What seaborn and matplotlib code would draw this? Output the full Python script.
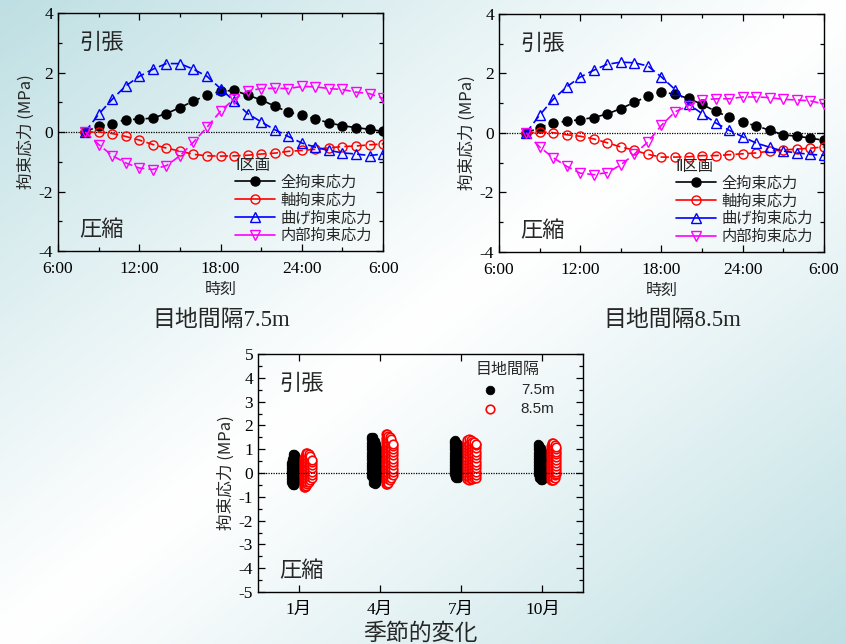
import numpy as np
import pandas as pd
import matplotlib
matplotlib.use("Agg")
import matplotlib.pyplot as plt
from matplotlib.ticker import FixedLocator, MultipleLocator
import seaborn as sns

# ---- daily curves (hours from 8:00 to next 6:00) ----
hours = list(range(8, 31))
hour_ticks = [6, 12, 18, 24, 30]
hour_labels = ["6:00", "12:00", "18:00", "24:00", "6:00"]

# 目地間隔7.5m (I区画)
total_75 = [0.00, 0.20, 0.28, 0.42, 0.43, 0.47, 0.62, 0.82, 1.04, 1.24, 1.37, 1.40,
            1.24, 1.08, 0.87, 0.67, 0.56, 0.44, 0.31, 0.21, 0.15, 0.09, 0.02]
axial_75 = [0.00, 0.00, -0.05, -0.15, -0.27, -0.42, -0.54, -0.64, -0.75, -0.80, -0.81, -0.80,
            -0.78, -0.74, -0.71, -0.65, -0.62, -0.58, -0.53, -0.49, -0.47, -0.43, -0.40]
bend_75 = [0.00, 0.60, 1.10, 1.55, 1.87, 2.11, 2.30, 2.30, 2.11, 1.87, 1.46, 1.04,
           0.62, 0.34, 0.08, -0.15, -0.37, -0.51, -0.62, -0.70, -0.74, -0.79, -0.74]
internal_75 = [0.00, -0.42, -0.79, -1.04, -1.21, -1.26, -1.13, -0.80, -0.34, 0.16, 0.70, 1.11,
               1.38, 1.46, 1.47, 1.46, 1.53, 1.52, 1.46, 1.43, 1.34, 1.29, 1.13]

# 目地間隔8.5m (II区画)
total_85 = [0.00, 0.18, 0.35, 0.39, 0.45, 0.52, 0.64, 0.82, 1.03, 1.24, 1.38, 1.30,
            1.16, 0.96, 0.73, 0.53, 0.36, 0.24, 0.09, -0.06, -0.11, -0.17, -0.25]
axial_85 = [0.00, 0.03, 0.01, -0.06, -0.11, -0.20, -0.33, -0.47, -0.58, -0.72, -0.81, -0.81,
            -0.80, -0.76, -0.76, -0.73, -0.70, -0.67, -0.61, -0.57, -0.54, -0.51, -0.47]
bend_85 = [0.00, 0.60, 1.13, 1.55, 1.88, 2.11, 2.31, 2.38, 2.36, 2.25, 1.88, 1.46,
           0.97, 0.65, 0.34, 0.09, -0.13, -0.34, -0.48, -0.61, -0.67, -0.72, -0.75]
internal_85 = [0.00, -0.47, -0.83, -1.12, -1.35, -1.40, -1.33, -1.07, -0.71, -0.30, 0.26, 0.71,
               0.92, 1.10, 1.15, 1.15, 1.21, 1.21, 1.19, 1.13, 1.11, 1.08, 0.97]

series_names = ["全拘束応力", "軸拘束応力", "曲げ拘束応力", "内部拘束応力"]

# ---- seasonal scatter: {x offset from month tick: stress values} ----
months = ["1月", "4月", "7月", "10月"]
spacings = ["7.5m", "8.5m"]

jan_75 = {
    -0.100: [-0.38, -0.26, -0.14, -0.02, 0.10, 0.22, 0.34, 0.44],
    -0.085: [-0.47, -0.35, -0.23, -0.11, 0.01, 0.13, 0.25, 0.37, 0.49, 0.60],
    -0.070: [-0.50, -0.38, -0.26, -0.14, -0.02, 0.10, 0.22, 0.34, 0.46, 0.58, 0.70, 0.80],
    -0.055: [-0.49, -0.37, -0.25, -0.13, -0.01, 0.11, 0.23, 0.35, 0.47, 0.59, 0.71, 0.82],
    -0.045: [-0.42, -0.30, -0.18, -0.06, 0.06, 0.18, 0.30, 0.42, 0.54, 0.66, 0.76],
}
apr_75 = {
    -0.105: [-0.12, 0.02, 0.16, 0.30, 0.44, 0.58, 0.72, 0.86, 1.00, 1.14, 1.28, 1.42, 1.52],
    -0.085: [-0.42, -0.28, -0.14, 0.00, 0.14, 0.28, 0.42, 0.56, 0.70, 0.84, 0.98, 1.12, 1.26, 1.40, 1.50],
    -0.065: [-0.48, -0.34, -0.20, -0.06, 0.08, 0.22, 0.36, 0.50, 0.64, 0.78, 0.92, 1.06, 1.20, 1.34],
    -0.045: [-0.44, -0.30, -0.16, -0.02, 0.12, 0.26, 0.40, 0.54, 0.68, 0.82, 0.96, 1.10, 1.20],
    -0.030: [-0.30, -0.16, -0.02, 0.12, 0.26, 0.40, 0.54, 0.68, 0.82, 0.96, 1.04],
}
jul_75 = {
    -0.090: [-0.05, 0.08, 0.21, 0.34, 0.47, 0.60, 0.73, 0.86, 0.99, 1.12, 1.25, 1.36],
    -0.075: [-0.18, -0.05, 0.08, 0.21, 0.34, 0.47, 0.60, 0.73, 0.86, 0.99, 1.12, 1.25, 1.38],
    -0.060: [-0.21, -0.08, 0.05, 0.18, 0.31, 0.44, 0.57, 0.70, 0.83, 0.96, 1.09, 1.22, 1.32],
    -0.045: [-0.19, -0.06, 0.07, 0.20, 0.33, 0.46, 0.59, 0.72, 0.85, 0.98, 1.10, 1.22],
}
oct_75 = {
    -0.060: [-0.05, 0.08, 0.21, 0.34, 0.47, 0.60, 0.73, 0.86, 0.99, 1.12, 1.20],
    -0.040: [-0.22, -0.09, 0.04, 0.17, 0.30, 0.43, 0.56, 0.69, 0.82, 0.95, 1.08, 1.18],
    -0.020: [-0.31, -0.18, -0.05, 0.08, 0.21, 0.34, 0.47, 0.60, 0.73, 0.86, 0.98, 1.06],
    0.000: [-0.31, -0.18, -0.05, 0.08, 0.21, 0.34, 0.47, 0.60, 0.72, 0.85, 0.94],
    0.012: [-0.25, -0.12, 0.01, 0.14, 0.27, 0.40, 0.53, 0.65, 0.76],
}
jan_85 = {
    0.060: [-0.58, -0.46, -0.34, -0.22, -0.10, 0.02, 0.14, 0.26, 0.38, 0.50, 0.62],
    0.075: [-0.60, -0.48, -0.36, -0.24, -0.12, 0.00, 0.12, 0.24, 0.36, 0.48, 0.60, 0.72],
    0.090: [-0.55, -0.43, -0.31, -0.19, -0.07, 0.05, 0.17, 0.29, 0.41, 0.53, 0.65, 0.77, 0.85],
    0.105: [-0.48, -0.36, -0.24, -0.12, 0.00, 0.12, 0.24, 0.36, 0.48, 0.60, 0.72, 0.84],
    0.125: [-0.38, -0.26, -0.14, -0.02, 0.10, 0.22, 0.34, 0.46, 0.58, 0.70, 0.78],
    0.145: [-0.30, -0.18, -0.06, 0.06, 0.18, 0.30, 0.42, 0.54, 0.66, 0.72],
    0.165: [-0.22, -0.08, 0.06, 0.20, 0.34, 0.46, 0.56],
}
apr_85 = {
    0.070: [-0.48, -0.34, -0.20, -0.06, 0.08, 0.22, 0.36, 0.50, 0.64, 0.78, 0.92, 1.06, 1.20, 1.34, 1.48, 1.62],
    0.085: [-0.45, -0.31, -0.17, -0.03, 0.11, 0.25, 0.39, 0.53, 0.67, 0.81, 0.95, 1.09, 1.23, 1.37, 1.51, 1.66],
    0.100: [-0.40, -0.26, -0.12, 0.02, 0.16, 0.30, 0.44, 0.58, 0.72, 0.86, 1.00, 1.14, 1.28, 1.42, 1.56],
    0.120: [-0.30, -0.16, -0.02, 0.12, 0.26, 0.40, 0.54, 0.68, 0.82, 0.96, 1.10, 1.24, 1.38, 1.50],
    0.140: [-0.20, -0.06, 0.08, 0.22, 0.36, 0.50, 0.64, 0.78, 0.92, 1.06, 1.20, 1.34, 1.42],
    0.160: [-0.10, 0.04, 0.18, 0.32, 0.46, 0.60, 0.74, 0.88, 1.02, 1.14, 1.24],
}
jul_85 = {
    0.075: [-0.26, -0.13, 0.00, 0.13, 0.26, 0.39, 0.52, 0.65, 0.78, 0.91, 1.04, 1.17, 1.30, 1.40],
    0.095: [-0.28, -0.15, -0.02, 0.11, 0.24, 0.37, 0.50, 0.63, 0.76, 0.89, 1.02, 1.15, 1.28, 1.42],
    0.115: [-0.26, -0.13, 0.00, 0.13, 0.26, 0.39, 0.52, 0.65, 0.78, 0.91, 1.04, 1.17, 1.30, 1.40],
    0.135: [-0.24, -0.11, 0.02, 0.15, 0.28, 0.41, 0.54, 0.67, 0.80, 0.93, 1.06, 1.19, 1.32],
    0.160: [-0.22, -0.09, 0.04, 0.17, 0.30, 0.43, 0.56, 0.69, 0.82, 0.95, 1.08, 1.20, 1.30],
    0.185: [-0.22, -0.08, 0.06, 0.20, 0.34, 0.48, 0.62, 0.76, 0.90, 1.04, 1.16, 1.24],
}
oct_85 = {
    0.105: [-0.30, -0.17, -0.04, 0.09, 0.22, 0.35, 0.48, 0.61, 0.74, 0.87, 1.00, 1.12],
    0.120: [-0.31, -0.18, -0.05, 0.08, 0.21, 0.34, 0.47, 0.60, 0.73, 0.86, 0.99, 1.12, 1.25],
    0.135: [-0.28, -0.15, -0.02, 0.11, 0.24, 0.37, 0.50, 0.63, 0.76, 0.89, 1.02, 1.15, 1.28],
    0.150: [-0.22, -0.09, 0.04, 0.17, 0.30, 0.43, 0.56, 0.69, 0.82, 0.95, 1.08, 1.18],
    0.170: [-0.05, 0.06, 0.18, 0.30, 0.42, 0.54, 0.66, 0.78, 0.90, 1.00, 1.10],
}

sns.set_style("ticks")
# serif digits (Times-like), gothic kanji as fallback
plt.rcParams["font.family"] = ["Liberation Serif", "Noto Sans CJK JP"]
plt.rcParams["axes.unicode_minus"] = False

JP = ["Noto Sans CJK JP"]
ROMAN = ["Liberation Serif", "DejaVu Sans", "Noto Sans CJK JP"]

fig = plt.figure(figsize=(8.46, 6.44), dpi=100)

# background gradient (teal corners, white diagonal)
gx, gy = np.meshgrid(np.linspace(0, 1, 300), np.linspace(0, 1, 240))
w = np.clip(np.abs(gx + gy - 1.0), 0, 1) ** 1.1
teal = np.array([190, 223, 227]) / 255.0
grad = (1 - w)[..., None] * np.ones(3) + w[..., None] * teal
bg = fig.add_axes([0, 0, 1, 1], zorder=-10)
bg.imshow(grad, aspect="auto", extent=(0, 1, 0, 1), origin="upper")
bg.axis("off")


def style_axis(ax, ylim, ymajor, yminor):
    ax.set_facecolor("none")
    ax.set_ylim(*ylim)
    ax.yaxis.set_major_locator(MultipleLocator(ymajor))
    ax.yaxis.set_minor_locator(MultipleLocator(yminor))
    ax.tick_params(which="both", direction="in", top=True, right=True, width=0.9,
                   colors="black", labelsize=12.5)
    ax.tick_params(axis="x", which="major", pad=7)
    ax.tick_params(which="major", length=5)
    ax.tick_params(which="minor", length=3)
    for s in ax.spines.values():
        s.set_linewidth(1.0)
        s.set_color("black")
    ax.set_ylabel("拘束応力 (MPa)", fontsize=12, family=JP, labelpad=3)
    ax.text(0.065, 0.878, "引張", transform=ax.transAxes, fontsize=16, family=JP, va="center")
    ax.text(0.065, 0.09, "圧縮", transform=ax.transAxes, fontsize=16, family=JP, va="center")


def daily_chart(rect, curves, zone, title, title_x):
    ax = fig.add_axes(rect)
    ax.axhline(0, color="black", lw=0.9, ls=(0, (1, 1)), zorder=1)
    specs = [("black", "o", "black", 6.5), ("red", "o", "none", 6.5),
             ("blue", "^", "none", 7.5), ("magenta", "v", "none", 7.5)]
    for name, vals, (col, mk, fc, ms) in zip(series_names, curves, specs):
        sns.lineplot(x=hours, y=vals, ax=ax, color=col, marker=mk, markersize=ms,
                     markerfacecolor=fc, markeredgecolor=col, markeredgewidth=1.0,
                     linestyle=(0, (5, 2.5)), linewidth=1.2, label=name, zorder=3)
    ax.set_xlim(6, 30)
    ax.xaxis.set_major_locator(FixedLocator(hour_ticks))
    ax.xaxis.set_minor_locator(FixedLocator([9, 15, 21, 27]))
    ax.set_xticklabels(hour_labels)
    style_axis(ax, (-4, 4), 2, 1)
    ax.set_xlabel("時刻", fontsize=11.5, family=JP, labelpad=3)
    leg = ax.legend(title=zone, loc="lower right", bbox_to_anchor=(1.0, -0.015), frameon=False,
                    prop={"family": JP, "size": 11},
                    title_fontproperties={"family": ROMAN, "size": 11},
                    handlelength=2.6, handletextpad=0.4, labelspacing=0.05, borderpad=0.2,
                    alignment="left")
    for h in leg.get_lines():
        h.set_linestyle("-")
    fig.text(title_x, 0.503, title, ha="center", va="center", fontsize=16.5)
    return ax


daily_chart([0.0686, 0.6102, 0.3842, 0.3696], [total_75, axial_75, bend_75, internal_75],
            "Ⅰ区画", "目地間隔7.5m", 0.261)
daily_chart([0.5898, 0.6087, 0.3842, 0.3696], [total_85, axial_85, bend_85, internal_85],
            "Ⅱ区画", "目地間隔8.5m", 0.795)

# ---- seasonal scatter ----
clusters = {
    ("1月", "7.5m"): jan_75, ("4月", "7.5m"): apr_75, ("7月", "7.5m"): jul_75, ("10月", "7.5m"): oct_75,
    ("1月", "8.5m"): jan_85, ("4月", "8.5m"): apr_85, ("7月", "8.5m"): jul_85, ("10月", "8.5m"): oct_85,
}
rows = []
for (m, sp), cols in clusters.items():
    for off, ys in cols.items():
        for y in ys:
            rows.append({"xpos": months.index(m) + off, "stress": y, "spacing": sp})
df = pd.DataFrame(rows)

ax3 = fig.add_axes([0.305, 0.0807, 0.3842, 0.3696])
d75 = df[df["spacing"] == "7.5m"]
d85 = df[df["spacing"] == "8.5m"]
sns.scatterplot(data=d75, x="xpos", y="stress", ax=ax3, color="black", s=38,
                edgecolor="black", linewidth=0.6, label="7.5m", zorder=3)
sns.scatterplot(data=d85, x="xpos", y="stress", ax=ax3, facecolor="white", s=38,
                edgecolor="red", linewidth=1.2, label="8.5m", zorder=3)
ax3.axhline(0, color="black", lw=0.9, ls=(0, (1, 1)), zorder=5)
ax3.set_xlim(-0.5, 3.5)
ax3.set_xticks(range(len(months)))
ax3.set_xticklabels(months)
style_axis(ax3, (-5, 5), 1, 0.5)
ax3.set_xlabel("季節的変化", fontsize=16.5, family=JP, labelpad=3)
ax3.legend(title="目地間隔", loc="upper left", bbox_to_anchor=(0.63, 1.02), frameon=False,
           prop={"family": ["Liberation Sans"], "size": 11},
           title_fontproperties={"family": JP, "size": 11.5},
           handlelength=2.0, handletextpad=1.0, labelspacing=0.3, borderpad=0.3,
           alignment="left")

fig.savefig("out.png", dpi=100)
